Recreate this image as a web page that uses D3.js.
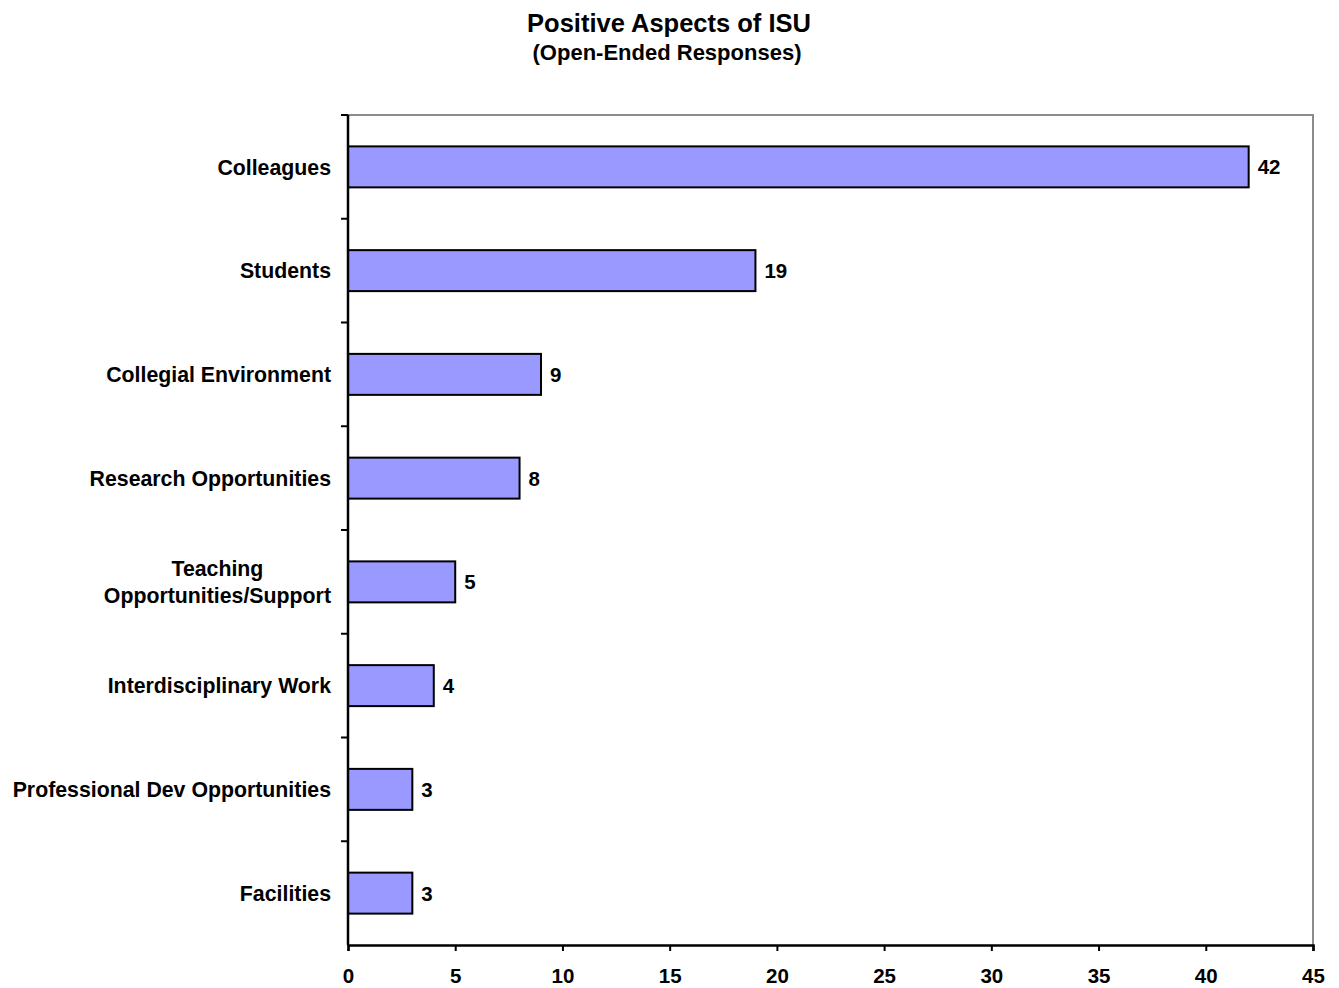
<!DOCTYPE html>
<html>
<head>
<meta charset="utf-8">
<script src="https://cdn.jsdelivr.net/npm/d3@7"></script>
<style>
  body { margin: 0; background: #fff; }
  text { font-family: Arial, "Liberation Sans", sans-serif; font-weight: bold; fill: #000; }
</style>
</head>
<body>
<div id="chart"></div>
<script>
var categories = ["Colleagues", "Students", "Collegial Environment", "Research Opportunities",
                  "Teaching Opportunities/Support", "Interdisciplinary Work",
                  "Professional Dev Opportunities", "Facilities"];
var values = [42, 19, 9, 8, 5, 4, 3, 3];
var xTicks = [0, 5, 10, 15, 20, 25, 30, 35, 40, 45];
// label lines, where a label wraps
var labelLines = {"Teaching Opportunities/Support": ["Teaching", "Opportunities/Support"]};

var W = 1339, H = 988;
var margin = {top: 115, right: 26, bottom: 43, left: 348},
    width = W - margin.left - margin.right,
    height = H - margin.top - margin.bottom;

var svg = d3.select("#chart").append("svg")
    .attr("width", W)
    .attr("height", H);

// titles
svg.append("text")
    .attr("x", 669).attr("y", 32)
    .attr("text-anchor", "middle")
    .style("font-size", "25.5px")
    .text("Positive Aspects of ISU");
svg.append("text")
    .attr("x", 667).attr("y", 60)
    .attr("text-anchor", "middle")
    .style("font-size", "22px")
    .text("(Open-Ended Responses)");

var g = svg.append("g")
    .attr("transform", "translate(" + margin.left + "," + margin.top + ")");

var x = d3.scaleLinear().domain([0, 45]).range([0, width]);
var y = d3.scaleBand().domain(categories).range([0, height]).paddingInner(0.605).paddingOuter(0.3025);
var yBand = d3.scaleBand().domain(categories).range([0, height]);

// gray frame on top and right
g.append("path")
    .attr("d", "M0,0H" + width + "V" + height)
    .attr("fill", "none")
    .attr("stroke", "#8c8c8c")
    .attr("stroke-width", 2);

// bars
g.selectAll("rect.bar")
    .data(values)
  .enter().append("rect")
    .attr("class", "bar")
    .attr("x", 0)
    .attr("y", function(d, i) { return y(categories[i]); })
    .attr("width", function(d) { return x(d); })
    .attr("height", y.bandwidth())
    .attr("fill", "#9999ff")
    .attr("stroke", "#000")
    .attr("stroke-width", 2);

// value labels
g.selectAll("text.val")
    .data(values)
  .enter().append("text")
    .attr("class", "val")
    .attr("x", function(d) { return x(d) + 9; })
    .attr("y", function(d, i) { return y(categories[i]) + y.bandwidth() / 2; })
    .attr("dy", "0.36em")
    .style("font-size", "20.5px")
    .text(function(d) { return d; });

// category labels
var labelSize = "21.3px";
categories.forEach(function(c) {
    var lines = labelLines[c] || [c];
    var cy = yBand(c) + yBand.bandwidth() / 2;
    var t = g.append("text")
        .style("font-size", labelSize)
        .attr("text-anchor", lines.length > 1 ? "middle" : "end");
    var tx = -17;
    if (lines.length > 1) {
        // centre the block, right edge at -17
        var tmp = g.append("text").style("font-size", labelSize).text(lines[1]);
        var w = tmp.node().getComputedTextLength();
        tmp.remove();
        tx = -17 - w / 2;
    }
    lines.forEach(function(l, k) {
        t.append("tspan")
            .attr("x", tx)
            .attr("y", cy + (k - (lines.length - 1) / 2) * 27)
            .attr("dy", "0.36em")
            .text(l);
    });
});

// y axis: ticks between bands
var yAxisG = g.append("g");
yAxisG.append("line")
    .attr("x1", 0).attr("x2", 0).attr("y1", 0).attr("y2", height)
    .attr("stroke", "#000").attr("stroke-width", 2.5);
yAxisG.selectAll("line.tick")
    .data(categories)
  .enter().append("line")
    .attr("class", "tick")
    .attr("x1", -7).attr("x2", 0)
    .attr("y1", function(c) { return yBand(c); })
    .attr("y2", function(c) { return yBand(c); })
    .attr("stroke", "#000").attr("stroke-width", 2);

// x axis
var xAxis = d3.axisBottom(x).tickValues(xTicks).tickSize(6).tickPadding(17);
var xg = g.append("g")
    .attr("transform", "translate(0," + height + ")")
    .call(xAxis);
xg.select(".domain").attr("stroke", "#000").attr("stroke-width", 2.5);
xg.selectAll(".tick line").attr("stroke", "#000").attr("stroke-width", 2);
xg.selectAll(".tick text")
    .style("font-family", "Arial, 'Liberation Sans', sans-serif")
    .style("font-weight", "bold")
    .style("font-size", "20.5px")
    .attr("fill", "#000");
</script>
</body>
</html>
